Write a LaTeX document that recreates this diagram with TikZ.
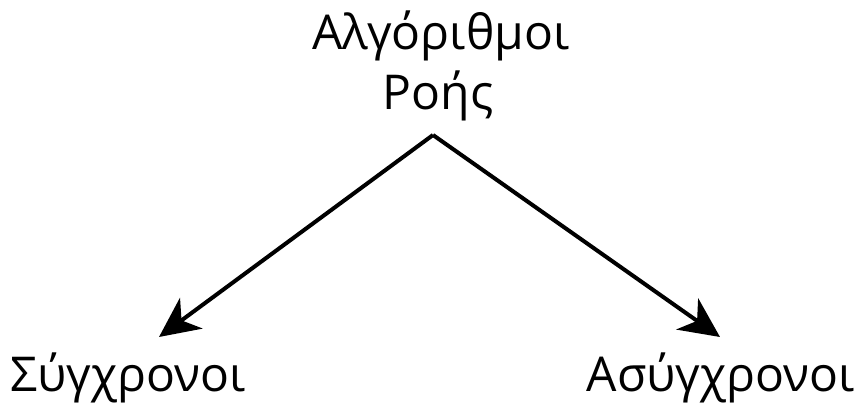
\documentclass[tikz,border=0pt]{standalone}
\usepackage{fontspec}
\setmainfont{Open Sans}
\usetikzlibrary{arrows.meta}
\tikzset{
  label text/.style={font=\fontsize{48}{58}\selectfont, inner sep=0pt},
  branch/.style={line width=4pt, -{Stealth[length=40pt, width=38pt, inset=12pt]}},
}
\begin{document}
\begin{tikzpicture}[x=1pt, y=1pt]
  \useasboundingbox (0,0) rectangle (859,404);
  % title, two lines
  \node[label text, anchor=base] (titleA) at (441,354) {Αλγόριθμοι};
  \node[label text, anchor=base] (titleB) at (438,294) {Ροής};
  % leaves
  \node[label text, anchor=base west] (sync) at (10,12) {Σύγχρονοι};
  \node[label text, anchor=base east] (async) at (855,12) {Ασύγχρονοι};
  % branch points
  \coordinate (apex) at (433,269);
  \coordinate (tipL) at (159,67);
  \coordinate (tipR) at (720,67);
  \draw[branch] (apex) -- (tipL);
  \draw[branch] (apex) -- (tipR);
\end{tikzpicture}
\end{document}
